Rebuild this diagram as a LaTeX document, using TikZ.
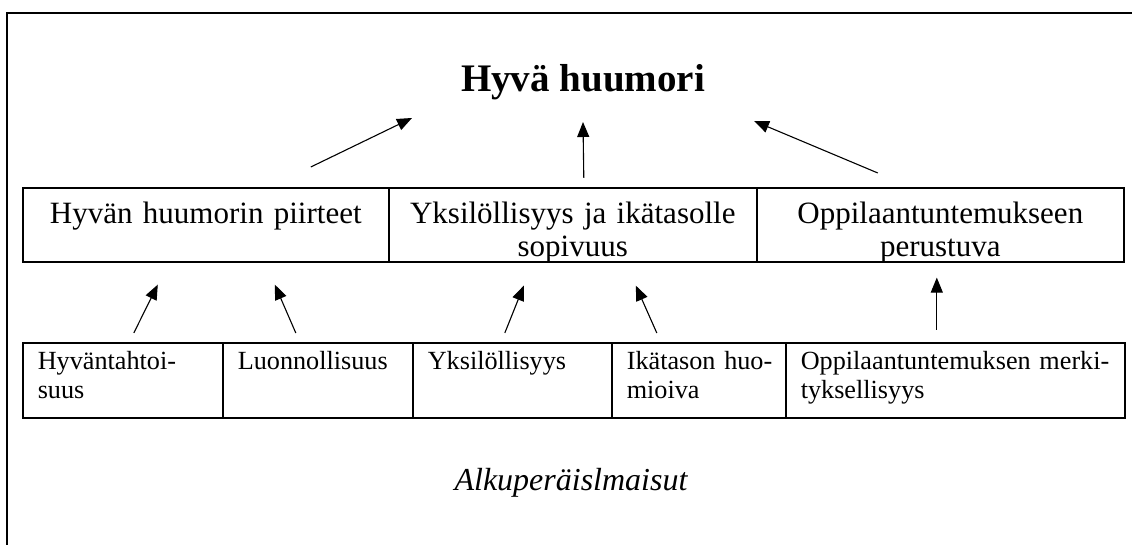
\documentclass[tikz,border=0pt]{standalone}
\usepackage{fontspec}
\setmainfont{Liberation Serif}
\usetikzlibrary{arrows.meta}
\tikzset{
  frame/.style={line width=2pt},
  upbox/.style={draw,line width=1.6pt,anchor=north west,inner xsep=4pt,inner ysep=0pt,align=center,
    text height=36pt,text depth=38pt,font=\fontsize{31}{33}\selectfont},
  lowbox/.style={draw,line width=1.6pt,anchor=north west,inner xsep=15pt,inner ysep=0pt,align=left,
    text height=27pt,text depth=48pt,font=\fontsize{26.2}{29}\selectfont},
  arr/.style={line width=1.1pt,-{Triangle[length=15pt,width=12pt]}}
}
\begin{document}
\begin{tikzpicture}[x=1pt,y=1pt]
        \useasboundingbox (0,0) rectangle (1132,545);
        % open frame (top and left only)
        \draw[frame] (7,-20) -- (7,532) -- (1160,532);
        \node[anchor=base,font=\fontsize{39}{42}\selectfont\bfseries] (title) at (583,453) {Hyvä huumori};
        % upper row
        \node[upbox,text width=358pt] (up1) at (22,358) {Hyvän huumorin piirteet};
        \node[upbox,text width=360pt] (up2) at (388,358) {Yksilöllisyys ja ikätasolle\\sopivuus};
        \node[upbox,text width=359pt] (up3) at (756,358) {Oppilaantuntemukseen\\perustuva};
        % lower row
        \node[lowbox,text width=170pt] (low1) at (22,203) {\mbox{Hyväntahtoi-}\\suus};
        \node[lowbox,text width=160pt] (low2) at (222,203) {Luonnollisuus};
        \node[lowbox,text width=169pt] (low3) at (412,203) {Yksilöllisyys};
        \node[lowbox,text width=144pt] (low4) at (611,203) {\mbox{Ikätason huo-}\\mioiva};
        \node[lowbox,text width=309pt] (low5) at (785,203) {\mbox{Oppilaantuntemuksen merki-}\\tyksellisyys};
        \node[anchor=base,font=\fontsize{32}{36}\selectfont\itshape] (src) at (571,54) {Alkuperäislmaisut};
        % arrows up to the title
        \foreach \a/\sa/\sb in {up1/{105,20}/{-171,-26},up2/{11,9}/{0,-30},up3/{-62.5,14}/{171,-29}}
            {\draw[arr] ([shift={(\sa)}]\a.north) -- ([shift={(\sb)}]title.base);}
        % arrows from the lower row
        \foreach \a/\sa/\b/\sb in {low1/{11,9}/up1/{-48,-22},low2/{-22,9}/up1/{69,-22},low3/{-7.5,9}/up2/{-49,-23},
            low4/{-42,9}/up2/{63,-23},low5/{-18.5,12}/up3/{-3.5,-15}}
            {\draw[arr] ([shift={(\sa)}]\a.north) -- ([shift={(\sb)}]\b.south);}
\end{tikzpicture}
\end{document}
